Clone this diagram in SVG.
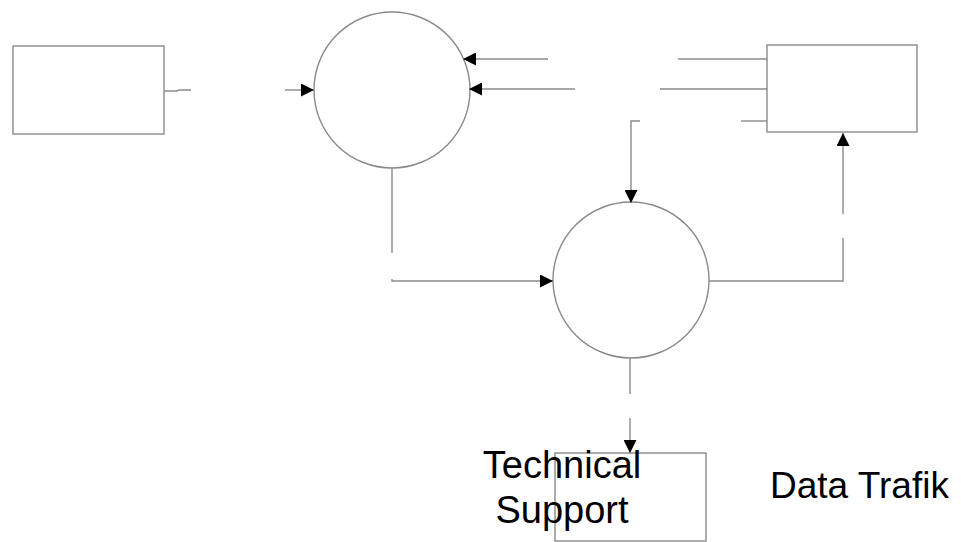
<svg xmlns="http://www.w3.org/2000/svg" width="961" height="542" viewBox="0 0 961 542">
<style>
.s{fill:#fff;stroke:#8a8a8a;stroke-width:1.4}
.c{fill:none;stroke:#8a8a8a;stroke-width:1.4}
.t{font-family:"Liberation Sans",Arial,sans-serif;font-size:38px;fill:#000}
</style>
<defs>
<marker id="ah" viewBox="0 0 13 13" refX="13" refY="6.5" markerWidth="13" markerHeight="13" markerUnits="userSpaceOnUse" orient="auto">
<path d="M0,0 L13,6.5 L0,13 Z" fill="#000"/>
</marker>
</defs>
<g id="ext1"><rect class="s" x="13" y="46" width="151" height="88"/></g>
<g id="proc1"><circle class="s" cx="392" cy="90" r="78"/></g>
<g id="ext2"><rect class="s" x="767" y="45" width="150" height="87"/></g>
<g id="proc2"><circle class="s" cx="631" cy="280" r="78"/></g>
<g id="ext3"><rect class="s" x="555" y="453" width="151" height="88"/></g>
<g id="connectors">
<path class="c" d="M164,91 H178 M178,90 H191"/>
<path class="c" d="M285,90 H314" marker-end="url(#ah)"/>
<path class="c" d="M548,59 H463" marker-end="url(#ah)"/>
<path class="c" d="M575,89 H469" marker-end="url(#ah)"/>
<path class="c" d="M678,59 H767"/>
<path class="c" d="M660,89 H767"/>
<path class="c" d="M741,121 H767"/>
<path class="c" d="M640,121 H631 V203" marker-end="url(#ah)"/>
<path class="c" d="M392,168 V253"/>
<path class="c" d="M392,279 V281 H553" marker-end="url(#ah)"/>
<path class="c" d="M709,281 H843 V238"/>
<path class="c" d="M843,214 V133" marker-end="url(#ah)"/>
<path class="c" d="M630,358 V394"/>
<path class="c" d="M630,418 V453" marker-end="url(#ah)"/>
</g>
<g id="labels">
<text class="t" x="562" y="478" text-anchor="middle">Technical</text>
<text class="t" x="562" y="523" text-anchor="middle">Support</text>
<text class="t" x="770" y="498" style="font-size:37px">Data Trafik</text>
</g>
</svg>
